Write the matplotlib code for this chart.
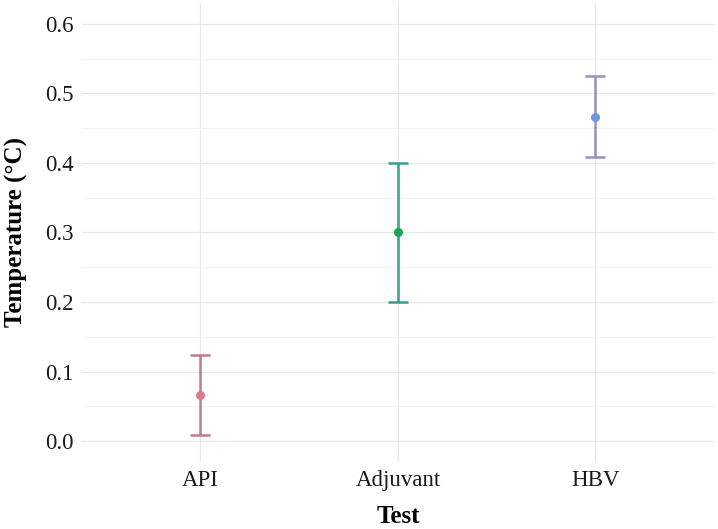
import numpy as np
import matplotlib.pyplot as plt
from matplotlib.ticker import MultipleLocator

tests = ['API', 'Adjuvant', 'HBV']
means = [0.0667, 0.300, 0.4667]
errors = [0.0577, 0.100, 0.0577]
bar_colors = ['#c07a8d', '#379e92', '#9591c2']
point_colors = ['#dc7b8f', '#1aa45c', '#6d96dc']

plt.rcParams['font.family'] = ['Liberation Serif', 'DejaVu Serif']

fig = plt.figure(figsize=(7.18, 5.29), dpi=100)
ax = fig.add_axes([0.1142, 0.1267, 0.880, 0.8677])

x = np.arange(1, len(tests) + 1)
for xi, m, e, bc, pc in zip(x, means, errors, bar_colors, point_colors):
    ax.errorbar(xi, m, yerr=e, fmt='none', ecolor=bc, elinewidth=1.8,
                capsize=7, capthick=1.8, zorder=3)
    ax.plot(xi, m, 'o', color=pc, markersize=5.5, zorder=4)

ax.set_xlim(0.4, 3.6)
ax.set_ylim(-0.03, 0.63)
ax.set_xticks(x)
ax.set_xticklabels(tests)
ax.yaxis.set_major_locator(MultipleLocator(0.1))
ax.yaxis.set_minor_locator(MultipleLocator(0.05))
ax.yaxis.set_major_formatter(plt.FuncFormatter(lambda v, p: f'{v:.1f}'))

ax.grid(True, which='major', color='#e8e8e8', linewidth=0.9)
ax.grid(True, which='minor', axis='y', color='#f3f3f3', linewidth=0.8)
ax.set_axisbelow(True)
for s in ax.spines.values():
    s.set_visible(False)
ax.tick_params(which='both', length=0, labelsize=16.5, colors='#1a1a1a', pad=6)

ax.set_xlabel('Test', fontsize=18, fontweight='bold', labelpad=10)
ax.set_ylabel('Temperature (°C)', fontsize=18, fontweight='bold', labelpad=12)

fig.savefig('out.png', dpi=100)
